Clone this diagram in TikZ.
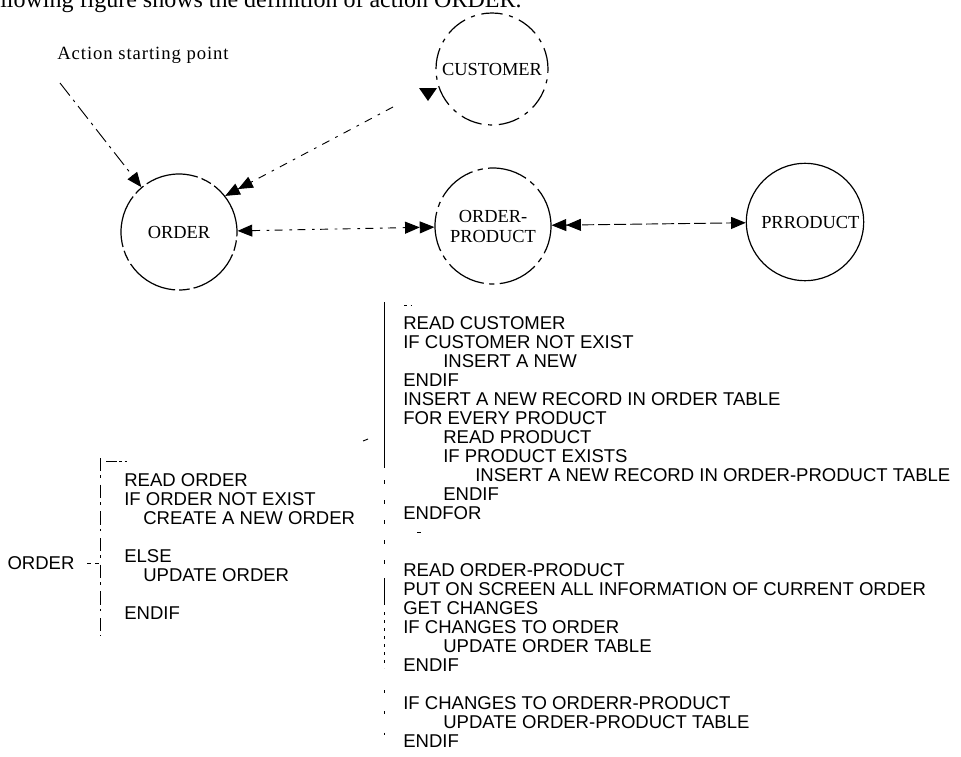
\documentclass[tikz,border=0pt]{standalone}
\usepackage{fontspec}
\setmainfont{Liberation Serif}
\newfontfamily\codefont{Liberation Sans}
\usetikzlibrary{arrows.meta}

\begin{document}
\begin{tikzpicture}[x=0.75pt,y=-0.75pt,
        >={Triangle[length=11pt,width=9pt]},
        entity/.style={draw,circle,line width=0.9pt,minimum size=87pt,inner sep=0pt,
            align=center,font=\fontsize{13.8}{15}\selectfont},
        link/.style={line width=0.7pt},
        code/.style={anchor=north west,inner sep=0pt,align=left,
            font=\codefont\fontsize{13.9}{14.25}\selectfont},
        brace/.style={line width=0.7pt}]
        \useasboundingbox (0,0) rectangle (961,757);

        % running text above the figure, cut by the page edge
        \begin{scope}
            \clip (0,0) rectangle (961,757);
            \node[anchor=base west,inner sep=0pt,font=\fontsize{18}{20}\selectfont] (caption)
                at (-20,7) {following figure shows the definition of action ORDER.};
        \end{scope}

        % entities
        \node[entity,dash pattern=on 40pt off 3pt on 8pt off 3pt] (order) at (179,232) {ORDER};
        \node[entity,minimum size=84pt,dash pattern=on 16pt off 5pt on 3pt off 5pt] (customer) at (492,69) {CUSTOMER};
        \node[entity,dash pattern=on 30pt off 4pt on 4pt off 4pt] (op) at (493,226) {ORDER-\\PRODUCT};
        \node[entity,minimum size=88pt] (product) at (805,222) {\hspace*{8pt}PRRODUCT};

        % action start
        \node[font=\fontsize{14}{16}\selectfont\addfontfeatures{LetterSpace=5}] (start) at (143,55) {Action starting point};
        \coordinate (startfoot) at (60,83);
        \draw[link,->,dash pattern=on 12pt off 4pt on 2pt off 4pt] (startfoot) -- (order.130);

        % relations
        \coordinate (custend) at (393,107);
        \draw[link,->>,dash pattern=on 6pt off 5pt on 2pt off 5pt] (custend) -- (order.38);
        \fill (419,88) -- (437,88) -- (428,101) -- cycle;
        \draw[link,<->>,dash pattern=on 6pt off 5pt on 2pt off 4pt] (order) -- (op);
        \draw[link,<<->,dash pattern=on 9pt off 3pt] (op) -- (product);

        % pseudo code of ORDER
        \node[font=\codefont\fontsize{13.9}{14.25}\selectfont] (ordlbl) at (41,563) {ORDER};
        \coordinate (lbrace) at (100,563);
        \draw[brace,dashed] ([xshift=6pt]ordlbl.east) -- (lbrace);
        \draw[brace,dash pattern=on 10pt off 3pt on 2pt off 5pt] (100,458) -- (100,636);
        \draw[brace,dash pattern=on 8pt off 2pt on 2pt off 2pt] (106,461) -- (127,461);
        \node[code] (ordcode) at (124,473.5) {READ ORDER\\
            IF ORDER NOT EXIST\\
            \hspace*{14.25pt}CREATE A NEW ORDER\\[14.25pt]
            ELSE\\
            \hspace*{14.25pt}UPDATE ORDER\\[14.25pt]
            ENDIF};

        % pseudo code of the create and update steps
        \draw[brace] (384,302) -- (384,468);
        \draw[brace,dash pattern=on 3pt off 12pt] (384,480) -- (384,565);
        \draw[brace] (384,578) -- (384,605);
        \draw[brace,dash pattern=on 2pt off 4pt] (384,612) -- (384,668);
        \draw[brace,dash pattern=on 2pt off 14pt] (384,690) -- (384,752);
        \draw[brace,dash pattern=on 2pt off 3pt] (404,305) -- (412,305);
        \draw[brace] (363,441) -- (368,439);
        \draw[brace] (417,532) -- (421,532);
        \node[code] (newcode) at (403,316.5) {READ CUSTOMER\\
            IF CUSTOMER NOT EXIST\\
            \hspace*{30pt}INSERT A NEW\\
            ENDIF\\
            INSERT A NEW RECORD IN ORDER TABLE\\
            FOR EVERY PRODUCT\\
            \hspace*{30pt}READ PRODUCT\\
            \hspace*{30pt}IF PRODUCT EXISTS\\
            \hspace*{54pt}INSERT A NEW RECORD IN ORDER-PRODUCT TABLE\\
            \hspace*{30pt}ENDIF\\
            ENDFOR};
        \node[code] (updcode) at (403,563.5) {READ ORDER-PRODUCT\\
            PUT ON SCREEN ALL INFORMATION OF CURRENT ORDER\\
            GET CHANGES\\
            IF CHANGES TO ORDER\\
            \hspace*{30pt}UPDATE ORDER TABLE\\
            ENDIF\\[14.25pt]
            IF CHANGES TO ORDERR-PRODUCT\\
            \hspace*{30pt}UPDATE ORDER-PRODUCT TABLE\\
            ENDIF};
    \end{tikzpicture}
\end{document}
